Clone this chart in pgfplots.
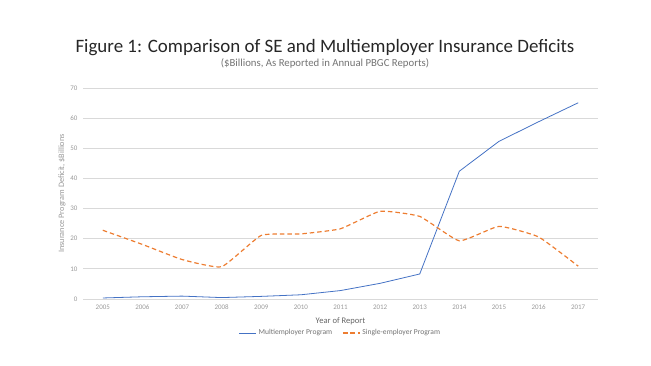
\documentclass[border=0pt]{standalone}
\usepackage{pgfplots}
\pgfplotsset{compat=1.18}
\usepackage{fontspec}
\setmainfont{Carlito}
\definecolor{mblue}{HTML}{4472C4}
\definecolor{morange}{HTML}{ED7D31}
\definecolor{gridc}{HTML}{D9D9D9}
\definecolor{tickc}{HTML}{999999}
\begin{document}
\begin{tikzpicture}
\path[use as bounding box] (0,0) rectangle (651bp,366bp);
\node[anchor=base, font=\fontsize{19}{22}\selectfont, text=black!85] at (325bp,313bp) {Figure 1: Comparison of SE and Multiemployer Insurance Deficits};
\node[anchor=base, font=\fontsize{10.8}{12}\selectfont, text=black!55] at (325bp,299bp) {(\$Billions, As Reported in Annual PBGC Reports)};
\begin{axis}[
  at={(83bp,67bp)}, anchor=south west,
  scale only axis, width=515bp, height=211bp,
  xmin=-0.5, xmax=12.5, ymin=0, ymax=70,
  xtick={0,...,12},
  xticklabels={2005,2006,2007,2008,2009,2010,2011,2012,2013,2014,2015,2016,2017},
  ytick={0,10,...,70},
  axis x line*=bottom, axis y line*=left,
  x axis line style={draw=gridc, line width=0.8pt, -},
  y axis line style={draw=none},
  major tick length=0pt,
  ymajorgrids, grid style={draw=gridc, line width=0.8pt},
  ticklabel style={font=\fontsize{7}{8}\selectfont, text=tickc},
  /pgf/number format/assume math mode=true,
  xticklabel style={yshift=-2bp},
  yticklabel style={xshift=-2bp},
  xlabel={Year of Report},
  ylabel={Insurance Program Deficit, \$Billions},
  xlabel style={font=\fontsize{8.6}{10}\selectfont, text=black!60, yshift=-1bp},
  ylabel style={font=\fontsize{8.3}{9}\selectfont, text=tickc, yshift=-2bp},
  legend style={at={(0.5,-0.125)}, anchor=north, draw=none, fill=none,
    font=\fontsize{7.6}{8}\selectfont, text=black!55, legend columns=2,
    /tikz/every even column/.append style={column sep=8bp}},
  legend cell align=left,
  clip=false,
]
\addplot[mblue, line width=0.8pt] coordinates {
(0,0.34) (1,0.74) (2,0.96) (3,0.47) (4,0.87) (5,1.4) (6,2.8) (7,5.2) (8,8.3) (9,42.4) (10,52.3) (11,58.8) (12,65.1)};
\addlegendentry{Multiemployer Program}
\addplot[morange, line width=1.2pt, dash pattern=on 4.5pt off 3pt, smooth, tension=0.25] coordinates {
(0,22.8) (1,18.1) (2,13.1) (3,10.7) (4,21.1) (5,21.6) (6,23.3) (7,29.1) (8,27.4) (9,19.3) (10,24.1) (11,20.6) (12,10.9)};
\addlegendentry{Single-employer Program}
\end{axis}
\end{tikzpicture}
\end{document}
